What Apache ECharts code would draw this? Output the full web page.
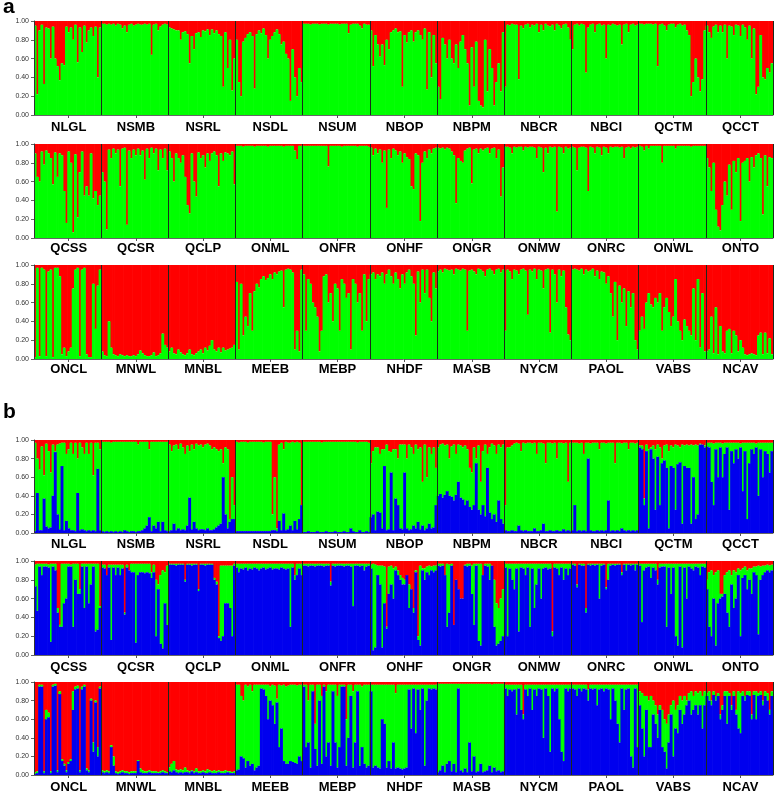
<!DOCTYPE html>
<html><head><meta charset="utf-8">
<script src="https://cdn.jsdelivr.net/npm/echarts/dist/echarts.min.js"></script>
<style>html,body{margin:0;padding:0;background:#fff}#c{width:778px;height:795px}</style>
</head><body><div id="c"></div>
<script>
// Population names per row (same rows in panel a and panel b)
const row1Pops = ['NLGL','NSMB','NSRL','NSDL','NSUM','NBOP','NBPM','NBCR','NBCI','QCTM','QCCT'];
const row2Pops = ['QCSS','QCSR','QCLP','ONML','ONFR','ONHF','ONGR','ONMW','ONRC','ONWL','ONTO'];
const row3Pops = ['ONCL','MNWL','MNBL','MEEB','MEBP','NHDF','MASB','NYCM','PAOL','VABS','NCAV'];
const yTicks = [0, 0.2, 0.4, 0.6, 0.8, 1.0];

// Panel a (K=2): membership in green cluster (%), red = remainder
const aGreen1 = [
 [95,22,90,96,33,93,92,60,94,60,52,37,55,53,94,88,93,80,96,56,93,67,95,77,90,93,84,94,40,93],
 [97,97,96,97,96,97,95,97,96,92,95,88,96,97,95,96,97,96,96,97,96,97,64,96,97,90,94,96,97,96],
 [93,92,91,90,90,80,88,89,86,55,84,70,87,88,83,90,89,91,85,91,87,90,86,84,30,88,50,80,26,60],
 [80,35,20,78,82,86,88,84,28,86,90,87,92,85,60,80,84,88,91,86,75,78,65,60,15,70,40,20,50,35],
 [97,97,97,96,97,97,97,96,97,97,97,96,97,97,97,97,96,97,97,97,87,96,97,97,97,95,92,97,96,96],
 [90,52,85,75,62,75,53,80,70,88,90,92,88,89,30,85,77,88,90,78,88,90,85,80,92,27,88,40,85,55],
 [30,17,82,75,60,80,60,55,75,50,78,85,70,55,10,72,30,78,15,10,8,80,25,70,50,10,35,55,25,88],
 [30,96,95,97,96,96,38,95,92,96,97,93,96,95,97,88,96,90,97,95,94,96,90,97,95,92,96,97,93,80],
 [70,96,97,95,97,96,45,93,96,97,88,96,97,95,96,60,96,95,97,96,95,96,75,96,97,88,96,97,95,96],
 [97,97,96,97,97,97,96,97,52,96,97,95,90,96,97,97,93,96,97,95,96,90,85,20,35,60,40,25,38,90],
 [95,88,82,94,96,88,95,88,96,60,95,94,85,96,95,84,96,93,80,95,60,92,22,30,85,40,38,50,45,55]
];
const aGreen2 = [
 [90,65,60,92,78,93,90,85,57,91,65,90,88,50,16,92,80,6,89,22,70,92,45,55,45,90,42,50,35,45],
 [70,60,9,94,85,95,90,94,55,95,96,14,93,85,94,88,95,88,93,62,95,85,96,90,95,72,94,85,95,72],
 [92,85,60,90,85,80,88,65,35,26,90,60,44,91,85,88,75,90,82,90,92,88,55,90,82,91,90,88,92,57],
 [98,98,98,97,98,98,98,98,97,98,98,98,98,98,97,98,98,98,98,98,98,97,98,98,98,98,93,84,98,98],
 [98,98,98,98,98,98,98,98,98,98,98,76,98,98,98,98,98,97,98,98,98,98,98,98,97,98,98,98,98,97],
 [96,88,95,90,94,80,93,32,94,85,95,93,88,92,80,90,86,84,55,52,90,88,18,80,92,85,94,90,95,96],
 [96,95,96,94,96,95,92,88,37,85,82,80,93,95,96,58,94,95,90,95,93,95,96,90,95,96,85,94,44,75],
 [97,97,96,90,97,96,97,97,93,97,96,97,97,96,85,97,96,70,96,90,97,96,97,28,97,96,90,97,95,96],
 [97,96,72,96,97,97,96,50,97,96,90,97,96,88,97,96,90,97,96,97,97,96,97,85,96,97,95,97,96,97],
 [98,97,93,98,95,98,98,98,98,98,80,98,98,98,98,98,95,98,98,98,98,98,98,97,98,98,98,98,98,98],
 [85,75,50,80,30,12,8,35,60,45,78,30,82,70,85,18,80,82,85,60,86,75,88,90,85,25,88,55,86,85]
];
const aGreen3 = [
 [2,97,3,97,95,3,93,95,2,97,97,88,5,12,3,8,12,75,95,97,3,95,97,5,2,2,80,32,78,95],
 [8,4,3,40,12,5,4,3,5,4,3,4,3,3,4,3,5,9,6,4,3,3,4,7,3,4,6,27,15,12],
 [8,12,6,5,10,7,5,4,6,10,5,4,6,8,10,6,12,9,14,20,10,8,12,7,12,9,10,11,12,15],
 [82,10,80,25,45,35,70,30,72,80,76,85,88,84,86,90,85,92,90,93,94,55,95,96,95,92,10,30,8,95],
 [90,30,85,80,60,55,45,8,30,88,90,60,70,40,80,75,30,85,80,65,70,10,85,80,60,70,30,90,40,85],
 [90,92,85,90,88,92,80,90,95,88,80,92,85,75,90,80,92,95,88,80,25,93,60,95,70,95,65,40,92,75],
 [93,95,92,96,95,94,95,90,96,95,94,96,95,30,94,95,93,90,96,95,93,88,95,96,94,90,95,96,92,95],
 [30,95,93,85,95,94,90,95,96,94,47,95,93,96,85,95,94,75,95,96,28,95,90,60,95,88,94,55,26,20],
 [95,96,95,94,96,90,95,93,94,96,88,94,85,93,92,80,88,70,45,82,20,78,60,75,35,72,55,70,20,10],
 [30,45,32,60,70,58,55,65,60,70,30,55,65,50,35,45,85,40,30,20,42,35,30,25,75,20,85,12,70,8],
 [8,10,45,6,55,5,35,8,6,30,32,6,30,25,8,20,12,5,4,5,6,5,4,25,28,5,28,6,22,5]
];

// Panel b (K=3): blue (bottom) and red (top) membership in %, green = remainder
const bBlue1 = [
 [2,43,3,3,37,7,5,6,40,87,20,4,72,3,13,5,3,3,2,43,3,4,3,2,3,2,3,2,69,3],
 [2,1,2,1,2,1,2,1,2,1,3,2,1,2,2,1,2,2,3,5,8,17,2,8,5,12,2,12,3,2],
 [2,3,10,3,5,3,4,3,8,38,4,12,5,3,4,4,3,5,3,3,4,6,8,10,60,20,5,12,15,15],
 [2,2,2,2,2,2,2,2,2,2,2,2,2,2,2,2,3,3,2,13,3,21,3,4,8,3,13,4,15,30],
 [1,1,2,1,1,1,2,1,1,1,2,1,1,1,2,1,1,1,2,1,1,5,2,1,1,3,1,1,2,1],
 [17,20,3,23,22,5,72,3,4,65,3,37,30,5,4,65,5,3,4,8,5,12,4,8,3,5,10,5,6,30],
 [40,42,38,41,45,40,39,35,41,55,38,36,30,35,28,25,30,75,25,20,30,18,70,22,15,20,12,35,15,10],
 [3,2,2,3,2,2,8,3,2,3,2,2,2,5,2,2,3,10,2,2,3,2,2,3,2,2,4,2,3,2],
 [3,30,2,3,2,3,2,80,3,2,2,3,2,3,2,3,35,2,3,2,3,2,5,3,2,3,2,3,2,3],
 [92,90,30,88,5,90,80,25,82,30,75,78,70,5,72,70,25,74,76,10,72,70,70,10,60,15,20,95,95,92],
 [93,92,55,30,90,60,92,60,85,92,25,88,75,90,80,92,45,88,15,75,90,85,92,40,90,60,88,85,65,88]
];
const bRed1 = [
 [3,20,32,7,38,4,12,35,5,12,5,4,3,3,15,10,3,15,3,20,3,8,15,3,15,3,38,3,3,10],
 [2,2,2,2,3,2,2,2,2,2,2,2,2,2,2,2,5,2,2,2,2,10,2,2,2,2,2,2,2,2],
 [5,12,6,5,10,4,8,15,6,12,5,10,4,6,5,8,5,4,6,10,8,10,12,10,25,8,10,85,40,70],
 [2,3,2,2,2,3,2,2,2,2,2,2,3,2,2,2,80,40,95,5,3,10,2,3,3,2,3,2,3,70],
 [2,2,2,2,2,2,2,2,3,2,2,2,2,2,2,2,2,2,2,2,2,2,2,2,3,2,2,2,2,3],
 [25,12,8,8,15,10,10,5,12,13,10,10,20,5,5,5,20,5,8,15,5,10,8,45,5,40,8,15,8,30],
 [8,5,4,6,5,20,7,5,15,5,6,8,6,10,30,35,8,20,6,45,12,5,15,8,4,6,15,5,8,5],
 [70,8,8,6,4,3,4,12,3,4,3,3,4,3,15,3,3,4,25,3,3,4,3,20,3,3,4,3,45,3],
 [3,3,3,4,3,15,3,3,4,3,3,3,10,3,3,4,3,3,3,25,3,3,4,3,3,10,3,3,4,3],
 [6,6,63,5,10,8,6,10,5,8,20,6,5,12,6,8,5,6,8,5,6,5,6,5,6,5,6,4,5,6],
 [3,3,3,4,3,3,3,4,3,3,3,3,3,3,3,4,3,3,3,3,3,3,4,3,3,3,3,3,3,3]
];
const bBlue2 = [
 [73,47,94,85,94,94,93,14,94,90,45,30,30,55,60,94,94,30,80,65,65,94,50,94,55,75,94,25,27,50],
 [93,92,85,93,16,93,85,93,85,92,43,93,90,88,88,13,85,88,88,87,88,87,82,88,20,70,12,7,55,32],
 [96,96,96,95,96,96,96,78,96,96,95,96,96,68,96,96,95,96,96,96,80,75,18,15,20,55,55,50,20,95],
 [93,88,92,91,93,90,92,91,93,92,90,92,93,91,92,93,91,92,92,91,93,92,91,92,30,93,80,85,92,85],
 [95,95,94,95,95,94,95,95,95,94,95,95,74,95,94,95,95,95,94,95,95,94,52,95,95,94,95,90,94,95],
 [92,5,8,85,75,8,55,28,65,75,60,90,85,80,75,75,85,50,70,45,88,16,10,90,80,88,85,90,88,90],
 [95,94,95,85,30,45,95,32,80,70,60,60,95,94,95,65,32,95,15,10,85,95,94,80,95,30,10,12,15,20],
 [93,20,92,80,70,92,25,93,92,85,93,30,92,50,75,92,60,92,93,91,92,20,93,92,85,93,80,92,85,92],
 [96,95,72,96,95,95,45,96,95,96,95,96,60,95,96,70,80,95,96,95,96,96,85,96,90,96,95,96,90,96],
 [95,35,90,93,94,82,93,90,75,93,94,94,30,93,65,93,20,10,94,8,93,60,94,92,90,94,93,85,94,93],
 [70,30,20,60,10,55,60,62,65,45,30,75,50,60,85,20,82,85,70,80,65,88,85,22,80,85,88,90,88,90]
];
const bRed2 = [
 [4,3,3,3,3,3,4,3,3,3,50,68,3,3,3,3,4,3,3,3,30,3,3,3,3,3,3,3,3,48],
 [4,4,15,4,4,4,4,4,4,4,55,4,10,3,3,3,3,3,3,3,3,3,12,4,20,25,15,10,12,5],
 [3,3,3,3,3,3,3,20,3,3,3,3,3,30,3,3,3,3,3,3,18,22,80,5,5,5,5,5,5,3],
 [3,3,3,3,3,3,3,3,3,3,3,3,3,3,3,3,3,3,3,3,3,3,3,3,3,3,15,3,3,3],
 [3,3,3,3,3,3,3,3,3,3,3,3,22,3,3,3,3,3,3,3,3,3,3,3,3,3,3,3,3,3],
 [4,3,4,5,5,5,6,70,6,5,8,6,10,15,18,20,15,25,30,50,10,80,5,8,8,6,5,6,5,5],
 [3,3,3,15,3,4,3,68,20,30,40,40,4,3,3,5,3,3,3,3,15,3,3,3,5,20,45,50,40,30],
 [3,3,3,3,3,3,3,3,3,3,3,3,3,3,3,3,3,3,3,3,3,75,3,3,3,3,3,3,3,3],
 [3,3,25,3,3,3,50,3,3,3,3,3,3,3,3,28,3,3,3,3,3,3,12,3,3,3,3,3,3,3],
 [3,3,3,3,3,3,3,3,20,3,3,3,3,3,3,3,3,3,3,3,3,3,3,3,3,3,3,3,3,3],
 [20,12,10,15,12,10,35,35,15,12,10,15,10,12,8,10,8,6,10,8,8,6,6,5,6,5,5,4,5,4]
];
const bBlue3 = [
 [1,2,95,95,2,60,62,2,95,96,3,87,15,10,3,12,15,70,92,93,3,92,95,5,3,80,25,78,20,93],
 [3,2,3,2,30,10,2,1,2,3,2,2,1,2,2,2,15,3,2,2,2,3,2,2,2,2,2,3,2,2],
 [4,3,5,3,2,3,2,3,3,2,4,2,3,2,2,3,2,2,3,2,2,2,3,2,2,2,3,2,2,2],
 [5,6,20,18,8,15,10,12,5,8,10,93,92,85,60,80,75,55,78,30,50,15,12,12,15,14,13,12,20,15],
 [95,30,35,8,90,28,10,80,12,95,20,35,10,90,35,8,30,95,95,10,40,85,8,35,90,10,30,12,8,10],
 [90,8,10,8,7,60,55,8,15,7,35,7,8,7,6,7,8,92,50,93,45,92,70,93,10,80,93,92,93,92],
 [3,5,10,3,12,15,4,12,3,93,5,3,7,3,35,4,20,3,4,12,3,4,5,10,3,8,4,5,3,4],
 [93,85,92,90,92,65,93,70,60,92,85,93,70,92,85,93,92,40,93,85,25,93,90,93,60,25,15,93,90,93],
 [93,92,85,93,90,93,92,80,93,92,93,75,92,93,90,93,92,60,93,80,55,35,93,70,92,93,20,8,93,30],
 [75,50,20,70,30,30,65,55,40,70,30,25,7,35,65,20,50,45,70,55,65,75,80,65,70,75,65,75,50,75],
 [85,80,75,86,80,85,60,70,85,55,85,70,85,65,50,45,85,80,86,85,60,86,60,85,86,75,85,80,65,85]
];
const bRed3 = [
 [97,96,3,3,96,30,33,96,3,2,95,10,83,88,95,86,83,10,5,4,95,5,3,93,95,18,65,20,70,5],
 [95,96,95,96,68,80,96,97,96,95,96,96,97,96,96,96,84,93,95,96,96,95,96,96,96,97,96,95,96,97],
 [92,88,85,94,95,94,95,92,95,96,95,96,93,96,96,95,96,94,95,96,95,96,95,96,96,95,96,96,97,96],
 [3,3,15,20,3,5,3,10,3,3,3,3,3,3,3,5,3,4,18,3,4,3,5,4,3,3,3,4,3,3],
 [3,3,20,3,3,45,3,3,15,3,10,3,3,3,3,15,3,3,3,40,3,3,10,3,3,3,5,3,3,3],
 [3,3,3,3,3,3,3,3,3,3,3,12,3,3,3,3,3,3,3,3,3,3,3,3,3,3,3,3,3,3],
 [2,2,2,2,2,2,2,2,2,2,2,2,2,2,2,2,2,2,2,2,2,2,2,2,3,2,2,2,2,2],
 [3,3,3,3,3,3,3,3,35,3,3,3,3,3,3,3,3,3,3,3,3,3,3,3,3,3,3,3,3,3],
 [3,3,3,3,3,3,3,8,3,3,3,3,3,3,3,3,3,3,3,3,3,3,3,3,3,3,3,3,3,3],
 [10,12,15,15,20,15,20,25,35,25,30,40,45,35,25,20,30,25,15,20,15,20,12,10,15,10,12,10,15,10],
 [12,10,20,10,15,12,35,25,10,10,12,25,10,30,10,12,10,15,10,10,35,10,10,12,10,20,10,12,30,10]
];

const GREEN = '#00ff00', RED = '#ff0000', BLUE = '#0000ee';
const FONT = '"Liberation Sans", Arial, sans-serif';
const tops = [21, 144, 265, 440, 561, 682];
const heights = [94, 94, 94, 93, 94, 93];
const labelMargins = [6, 4, 4, 5, 6, 6];

const rows = [
  {pops: row1Pops, green: aGreen1},
  {pops: row2Pops, green: aGreen2},
  {pops: row3Pops, green: aGreen3},
  {pops: row1Pops, blue: bBlue1, red: bRed1},
  {pops: row2Pops, blue: bBlue2, red: bRed2},
  {pops: row3Pops, blue: bBlue3, red: bRed3}
];

const grid = [], xAxis = [], yAxis = [], series = [];
rows.forEach((row, i) => {
  const src = row.green || row.blue;
  const cats = [], bounds = new Set(), centers = new Set();
  let k = 0;
  src.forEach((arr, p) => {
    if (k > 0) bounds.add(k);
    centers.add(k + Math.floor(arr.length / 2));
    arr.forEach((_, j) => cats.push(row.pops[p] + '#' + (j + 1)));
    k += arr.length;
  });
  grid.push({left: 34, right: 5, top: tops[i], height: heights[i]});
  xAxis.push({
    type: 'category', gridIndex: i, data: cats, boundaryGap: true, z: 10,
    axisLine: {show: true, lineStyle: {color: '#666', width: 1}},
    axisTick: {show: true, alignWithLabel: true, length: 3, interval: idx => centers.has(idx), lineStyle: {color: '#555'}},
    axisLabel: {show: true, interval: idx => centers.has(idx), formatter: v => v.split('#')[0],
      fontFamily: FONT, fontWeight: 'bold', fontSize: 13, color: '#000', margin: labelMargins[i]},
    splitLine: {show: true, interval: idx => bounds.has(idx), lineStyle: {color: '#1c2a1c', width: 1}}
  });
  yAxis.push({
    type: 'value', gridIndex: i, min: 0, max: 1, interval: 0.2, z: 10,
    axisLine: {show: true, lineStyle: {color: '#333', width: 1}},
    axisTick: {show: true, length: 3, lineStyle: {color: '#666'}},
    axisLabel: {formatter: v => yTicks.includes(+v.toFixed(1)) ? v.toFixed(2) : '', fontSize: 7, color: '#333', margin: 5, fontFamily: FONT},
    splitLine: {show: false}
  });
  const common = {type: 'bar', xAxisIndex: i, yAxisIndex: i, stack: 'st' + i,
    barWidth: 2.9, silent: true, animation: false};
  // lower segments drawn on top (higher z) so thin spikes of the upper colour look narrow
  const mk = (name, color, data, z) => Object.assign({}, common, {name, data, z, itemStyle: {color}});
  if (row.green) {
    const g = [], r = [];
    row.green.forEach(arr => arr.forEach(v => { g.push(v / 100); r.push(1 - v / 100); }));
    series.push(mk('g' + i, GREEN, g, 4), mk('r' + i, RED, r, 2));
  } else {
    const b = [], g = [], r = [];
    row.blue.forEach((arr, p) => arr.forEach((v, j) => {
      const rv = row.red[p][j];
      b.push(v / 100); r.push(rv / 100); g.push(Math.max(0, 100 - v - rv) / 100);
    }));
    series.push(mk('b' + i, BLUE, b, 5), mk('g' + i, GREEN, g, 4), mk('r' + i, RED, r, 2));
  }
});

const chart = echarts.init(document.getElementById('c'), null, {renderer: 'canvas'});
chart.setOption({
  animation: false,
  backgroundColor: '#ffffff',
  grid, xAxis, yAxis, series,
  graphic: [
    {type: 'text', left: 3, top: -3, style: {text: 'a', font: 'bold 21px ' + FONT, fill: '#000'}},
    {type: 'text', left: 3, top: 402, style: {text: 'b', font: 'bold 21px ' + FONT, fill: '#000'}}
  ]
});
</script>
</body></html>
